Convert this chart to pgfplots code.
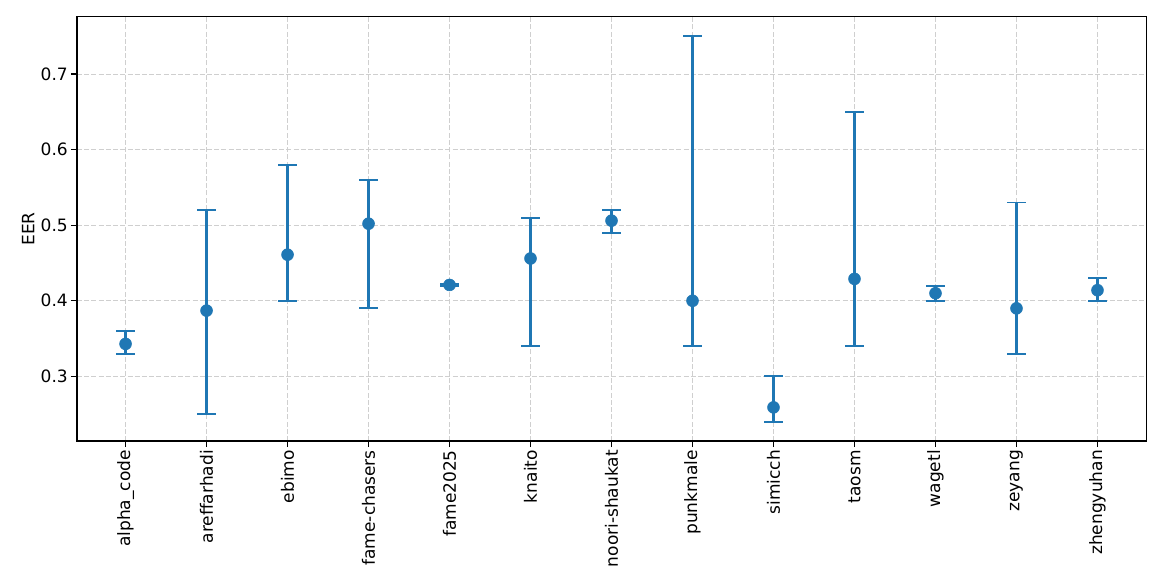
\documentclass[border=0pt]{standalone}
\usepackage{pgfplots}
\pgfplotsset{compat=1.18}
\usepackage{pgfplotstable}
\usepackage{fontspec}
\setmainfont{DejaVu Sans}
\definecolor{c0}{HTML}{1F77B4}
\definecolor{gridc}{HTML}{CFCFCF}
\pgfplotstableread{
x y ep em
0 0.343 0.017 0.013
1 0.387 0.133 0.137
2 0.461 0.119 0.061
3 0.502 0.058 0.112
4 0.421 0.001 0.001
5 0.456 0.054 0.116
6 0.506 0.014 0.016
7 0.400 0.350 0.060
8 0.259 0.041 0.019
9 0.429 0.221 0.089
10 0.410 0.010 0.010
11 0.390 0.140 0.060
12 0.414 0.016 0.014
}\data
\begin{document}
\begin{tikzpicture}
\path[use as bounding box] (0,0) rectangle (838bp,419bp);
\begin{axis}[
  at={(55.4bp,101.5bp)}, anchor=south west,
  scale only axis, width=769.7bp, height=305.3bp,
  xmin=-0.6, xmax=12.6, ymin=0.2145, ymax=0.7755,
  xtick={0,...,12},
  xticklabels={alpha\_code,areffarhadi,ebimo,fame-chasers,fame2025,knaito,noori-shaukat,punkmale,simicch,taosm,wagetl,zeyang,zhengyuhan},
  xticklabel style={rotate=90, anchor=east, inner sep=2bp},
  ytick={0.3,0.4,0.5,0.6,0.7},
  yticklabel style={/pgf/number format/fixed,/pgf/number format/precision=1, inner sep=2bp},
  /pgf/number format/assume math mode=true,
  tick label style={font=\fontsize{12.3}{14}\selectfont},
  label style={font=\fontsize{12.3}{14}\selectfont},
  ylabel={EER},
  ylabel style={yshift=-1bp},
  grid=major,
  major grid style={gridc, line width=0.7bp, dash pattern=on 3.6bp off 1.6bp},
  tick align=outside, tick pos=left,
  major tick length=4.4bp,
  axis line style={line width=0.8bp},
  every tick/.style={black, line width=0.8bp},
]
\addplot[c0, only marks, mark=*, mark size=4.3bp, mark options={fill=c0, draw=c0},
  error bars/.cd, y dir=both, y explicit,
  error bar style={line width=2.1bp, c0},
  error mark options={rotate=90, mark size=6.6bp, line width=1.4bp, c0}]
  table[x=x, y=y, y error plus=ep, y error minus=em] {\data};
\draw[line width=0.8bp, black] (rel axis cs:0,0) rectangle (rel axis cs:1,1);
\end{axis}
\end{tikzpicture}
\end{document}
